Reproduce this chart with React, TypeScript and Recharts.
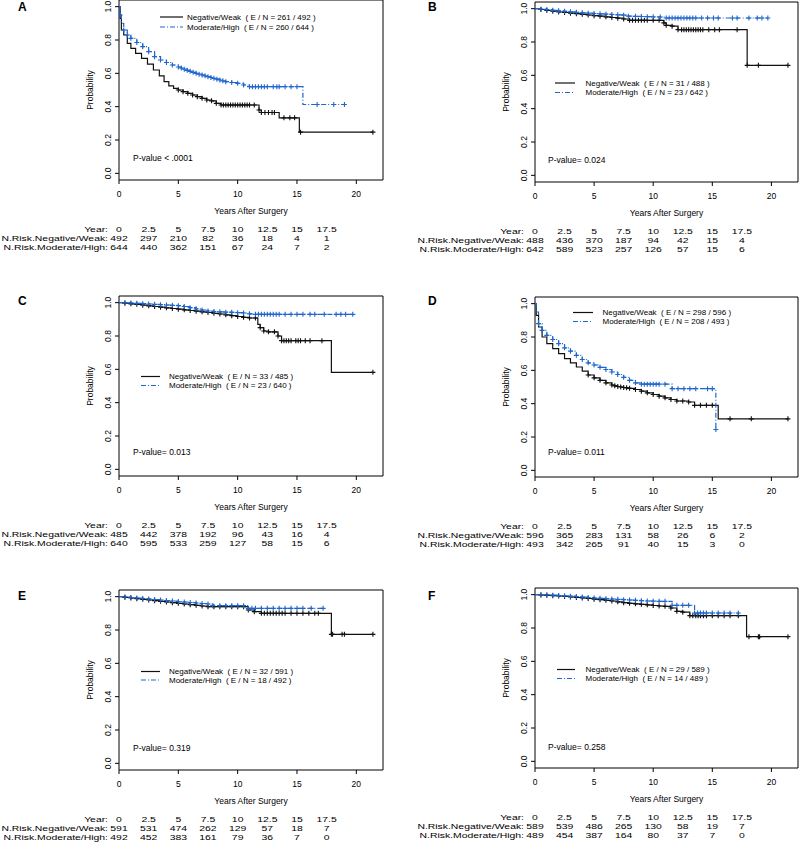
import React from 'react';
import { LineChart, Line, XAxis, YAxis, ReferenceArea } from 'recharts';

// shared axis values
const YEARS = [0, 2.5, 5, 7.5, 10, 12.5, 15, 17.5];
const X_TICKS = [0, 5, 10, 15, 20];
const ALL_X = [0, 2.5, 5, 7.5, 10, 12.5, 15, 17.5, 20];
const Y_TICKS = [0, 0.2, 0.4, 0.6, 0.8, 1.0];
const GROUPS = ['Negative/Weak', 'Moderate/High'];

// curves: [years, survival, censored]
const A_NEG = [[0,1,0],[0.1,0.93,0],[0.2,0.86,0],[0.4,0.83,0],[0.7,0.78,0],[1.0,0.75,0],[1.4,0.72,0],[1.9,0.69,0],[2.4,0.655,0],[2.9,0.62,0],[3.4,0.585,0],[3.8,0.55,0],[4.2,0.525,0],[4.6,0.51,0],[5.0,0.5,1],[5.4,0.49,1],[5.8,0.48,1],[6.2,0.47,1],[6.6,0.46,1],[7.0,0.45,1],[7.4,0.44,1],[7.8,0.435,1],[8.2,0.42,1],[8.6,0.41,1],[8.8,0.41,1],[9.0,0.41,1],[9.2,0.41,1],[9.4,0.41,1],[9.6,0.41,1],[9.8,0.41,1],[10.0,0.41,1],[10.2,0.41,1],[10.4,0.41,1],[10.6,0.41,1],[10.8,0.41,1],[11.0,0.41,1],[11.4,0.41,1],[11.8,0.38,1],[12.0,0.365,1],[12.3,0.365,1],[12.6,0.365,1],[12.9,0.365,1],[13.1,0.365,1],[13.5,0.333,0],[13.9,0.333,1],[14.4,0.333,1],[14.8,0.333,1],[15.2,0.247,0],[15.3,0.247,1],[21.4,0.247,1]];
const A_MOD = [[0,1,0],[0.1,0.95,1],[0.2,0.9,0],[0.4,0.86,1],[0.7,0.83,1],[1.0,0.81,1],[1.5,0.785,1],[2.0,0.76,1],[2.5,0.73,1],[3.0,0.70,1],[3.5,0.68,1],[4.0,0.665,1],[4.5,0.65,1],[5.0,0.638,1],[5.25,0.632,1],[5.5,0.625,1],[5.75,0.618,1],[6.0,0.612,1],[6.25,0.606,1],[6.5,0.60,1],[6.75,0.595,1],[7.0,0.59,1],[7.25,0.585,1],[7.5,0.58,1],[7.75,0.575,1],[8.0,0.57,1],[8.25,0.565,1],[8.5,0.56,1],[8.75,0.555,1],[9.0,0.55,1],[9.5,0.545,1],[10.0,0.54,1],[10.5,0.53,1],[11.0,0.52,1],[11.25,0.52,1],[11.5,0.52,1],[11.75,0.52,1],[12.0,0.52,1],[12.25,0.52,1],[12.5,0.52,1],[13.0,0.52,1],[13.3,0.52,1],[13.5,0.52,1],[14.0,0.52,1],[14.5,0.52,1],[15.0,0.52,1],[15.5,0.413,0],[16.7,0.413,1],[18.1,0.413,1],[19.0,0.413,1]];
const A_RISK_NEG = [492, 297, 210, 82, 36, 18, 4, 1];
const A_RISK_MOD = [644, 440, 362, 151, 67, 24, 7, 2];
const A_EN = ['261 / 492', '260 / 644'];

const B_NEG = [[0,1,0],[0.5,0.995,1],[1,0.99,1],[1.5,0.985,1],[2,0.98,1],[2.5,0.977,1],[3,0.973,1],[3.5,0.97,1],[4,0.966,1],[4.5,0.962,1],[5,0.958,1],[5.5,0.955,1],[6,0.951,1],[6.5,0.947,1],[7,0.943,1],[7.5,0.938,1],[8,0.93,1],[8.25,0.93,1],[8.5,0.93,1],[8.75,0.93,1],[9,0.93,1],[9.25,0.93,1],[9.5,0.93,1],[10,0.93,1],[10.5,0.93,1],[10.9,0.915,1],[11.1,0.9,1],[11.6,0.895,1],[12.1,0.874,1],[12.4,0.874,1],[12.6,0.874,1],[12.8,0.874,1],[13,0.874,1],[13.2,0.874,1],[13.4,0.874,1],[13.6,0.874,1],[13.8,0.874,1],[14.0,0.874,1],[14.2,0.874,1],[14.7,0.874,1],[15.2,0.874,1],[15.6,0.874,1],[17.1,0.874,1],[17.95,0.66,1],[18.9,0.66,1],[21.4,0.66,1]];
const B_MOD = [[0,1,0],[0.5,0.997,1],[1,0.994,1],[1.5,0.99,1],[2,0.987,1],[2.5,0.984,1],[3,0.981,1],[3.5,0.978,1],[4,0.975,1],[4.5,0.973,1],[5,0.971,1],[5.5,0.969,1],[6,0.967,1],[6.5,0.965,1],[7,0.963,1],[7.5,0.961,1],[7.9,0.955,1],[8.5,0.954,1],[9,0.953,1],[9.5,0.952,1],[10,0.951,1],[10.6,0.95,1],[11.1,0.944,1],[11.35,0.944,1],[11.6,0.944,1],[11.85,0.944,1],[12.1,0.944,1],[12.35,0.944,1],[12.6,0.944,1],[12.85,0.944,1],[13.1,0.944,1],[13.35,0.944,1],[13.6,0.944,1],[14.1,0.944,1],[14.6,0.944,1],[15.1,0.944,1],[15.5,0.944,1],[16.7,0.944,1],[17.1,0.944,1],[18.1,0.944,1],[18.8,0.944,1],[19.2,0.944,1],[19.7,0.944,1]];
const B_RISK_NEG = [488, 436, 370, 187, 94, 42, 15, 4];
const B_RISK_MOD = [642, 589, 523, 257, 126, 57, 15, 6];
const B_EN = ['31 / 488', '23 / 642'];

const C_NEG = [[0,1,0],[0.5,0.997,1],[1,0.993,1],[1.5,0.99,1],[2,0.985,1],[2.5,0.981,1],[3,0.977,1],[3.5,0.973,1],[4,0.969,1],[4.5,0.965,1],[5,0.961,1],[5.5,0.957,1],[6,0.953,1],[6.5,0.949,1],[7,0.945,1],[7.5,0.941,1],[8,0.936,1],[8.5,0.932,1],[9,0.927,1],[9.5,0.922,1],[10,0.917,1],[10.5,0.912,1],[11,0.908,1],[11.5,0.908,1],[11.7,0.87,0],[11.9,0.85,1],[12.2,0.83,1],[12.6,0.825,1],[13.1,0.825,1],[13.4,0.8,1],[13.7,0.772,1],[13.9,0.772,1],[14.1,0.772,1],[14.3,0.772,1],[14.5,0.772,1],[14.9,0.772,1],[15.1,0.772,1],[15.3,0.772,1],[15.7,0.772,1],[16.1,0.772,1],[17.1,0.772,1],[17.9,0.582,0],[21.4,0.582,1]];
const C_MOD = [[0,1,0],[0.5,0.999,1],[1,0.998,1],[1.5,0.996,1],[2,0.994,1],[2.5,0.992,1],[3,0.99,1],[3.5,0.988,1],[4,0.986,1],[4.5,0.984,1],[5,0.982,1],[5.5,0.977,1],[6,0.97,1],[6.5,0.963,1],[7,0.956,1],[7.5,0.95,1],[8,0.947,1],[8.5,0.945,1],[9,0.943,1],[9.5,0.942,1],[10,0.94,1],[10.5,0.938,1],[11,0.933,1],[11.5,0.93,1],[11.75,0.93,1],[12,0.93,1],[12.25,0.93,1],[12.5,0.93,1],[12.75,0.93,1],[13,0.93,1],[13.25,0.93,1],[13.5,0.93,1],[14,0.93,1],[14.5,0.93,1],[15,0.93,1],[15.5,0.93,1],[16.1,0.93,1],[16.5,0.93,1],[17.3,0.93,1],[18.3,0.93,1],[18.7,0.93,1],[19.1,0.93,1],[19.7,0.93,1]];
const C_RISK_NEG = [485, 442, 378, 192, 96, 43, 16, 4];
const C_RISK_MOD = [640, 595, 533, 259, 127, 58, 15, 6];
const C_EN = ['33 / 485', '23 / 640'];

const D_NEG = [[0,1,0],[0.1,0.93,0],[0.3,0.86,0],[0.6,0.8,0],[1.0,0.76,0],[1.5,0.73,0],[2.0,0.70,0],[2.5,0.67,0],[3.0,0.645,0],[3.5,0.62,0],[4.0,0.595,0],[4.5,0.572,1],[5.0,0.555,1],[5.5,0.54,1],[6.0,0.525,1],[6.5,0.512,1],[6.75,0.507,1],[7.0,0.503,1],[7.25,0.5,1],[7.5,0.497,1],[7.75,0.495,1],[8.0,0.492,1],[8.5,0.485,1],[9.0,0.475,1],[9.5,0.465,1],[10.0,0.455,1],[10.5,0.445,1],[11.0,0.435,1],[11.5,0.425,1],[12.0,0.416,1],[12.5,0.416,1],[13.0,0.41,1],[13.5,0.39,1],[14.0,0.39,1],[14.5,0.39,1],[15.0,0.39,1],[15.5,0.309,0],[16.5,0.309,1],[18.3,0.309,1],[21.4,0.309,1]];
const D_MOD = [[0,1,0],[0.1,0.95,0],[0.3,0.88,1],[0.6,0.84,1],[1.0,0.81,1],[1.5,0.785,1],[2.0,0.76,1],[2.5,0.735,1],[3.0,0.715,1],[3.5,0.69,1],[4.0,0.665,1],[4.5,0.645,1],[5.0,0.632,1],[5.5,0.618,1],[6.0,0.605,1],[6.5,0.59,1],[7.0,0.575,1],[7.5,0.558,1],[8.0,0.54,1],[8.5,0.525,1],[9.0,0.517,1],[9.25,0.517,1],[9.5,0.517,1],[9.75,0.517,1],[10.0,0.517,1],[10.25,0.517,1],[10.5,0.517,1],[11.0,0.517,1],[11.6,0.49,1],[12.1,0.49,1],[12.6,0.49,1],[13.1,0.49,1],[13.6,0.49,1],[14.6,0.49,1],[15.0,0.49,1],[15.3,0.245,1]];
const D_RISK_NEG = [596, 365, 283, 131, 58, 26, 6, 2];
const D_RISK_MOD = [493, 342, 265, 91, 40, 15, 3, 0];
const D_EN = ['298 / 596', '208 / 493'];

const E_NEG = [[0,1,0],[0.5,0.996,1],[1,0.992,1],[1.5,0.988,1],[2,0.984,1],[2.5,0.98,1],[3,0.976,1],[3.5,0.972,1],[4,0.968,1],[4.5,0.964,1],[5,0.96,1],[5.5,0.956,1],[6,0.952,1],[6.5,0.948,1],[7,0.944,1],[7.5,0.94,1],[8,0.94,1],[8.5,0.94,1],[9,0.94,1],[9.5,0.94,1],[10,0.94,1],[10.5,0.94,1],[10.9,0.92,1],[11.4,0.91,1],[12,0.90,1],[12.25,0.90,1],[12.5,0.90,1],[12.75,0.90,1],[13,0.90,1],[13.25,0.90,1],[13.5,0.90,1],[13.75,0.90,1],[14,0.90,1],[14.5,0.90,1],[15,0.90,1],[15.5,0.90,1],[16,0.90,1],[16.5,0.90,1],[16.8,0.90,1],[17.9,0.774,1],[18,0.774,1],[18.8,0.774,1],[19,0.774,1],[21.4,0.774,1]];
const E_MOD = [[0,1,0],[0.5,0.998,1],[1,0.995,1],[1.5,0.992,1],[2,0.989,1],[2.5,0.986,1],[3,0.983,1],[3.5,0.98,1],[4,0.977,1],[4.5,0.974,1],[5,0.971,1],[5.5,0.968,1],[6,0.965,1],[6.5,0.962,1],[7,0.959,1],[7.5,0.956,1],[7.9,0.946,1],[8.5,0.946,1],[9,0.946,1],[9.5,0.946,1],[10,0.946,1],[10.5,0.946,1],[10.9,0.93,1],[11.2,0.93,1],[11.5,0.93,1],[12,0.93,1],[12.5,0.93,1],[13,0.93,1],[13.5,0.93,1],[14,0.93,1],[14.5,0.93,1],[15,0.93,1],[15.5,0.93,1],[16.2,0.93,1],[17.2,0.93,1]];
const E_RISK_NEG = [591, 531, 474, 262, 129, 57, 18, 7];
const E_RISK_MOD = [492, 452, 383, 161, 79, 36, 7, 0];
const E_EN = ['32 / 591', '18 / 492'];

const F_NEG = [[0,1,0],[0.5,0.998,1],[1,0.996,1],[1.5,0.994,1],[2,0.992,1],[2.5,0.989,1],[3,0.986,1],[3.5,0.983,1],[4,0.98,1],[4.5,0.977,1],[5,0.973,1],[5.5,0.97,1],[6,0.966,1],[6.5,0.962,1],[7,0.957,1],[7.5,0.952,1],[8,0.948,1],[8.5,0.945,1],[9,0.942,1],[9.5,0.939,1],[10,0.935,1],[10.5,0.932,1],[11,0.93,1],[11.5,0.92,1],[12,0.90,1],[12.5,0.895,1],[13.1,0.874,1],[13.35,0.874,1],[13.6,0.874,1],[13.8,0.874,1],[14,0.874,1],[14.25,0.874,1],[14.5,0.874,1],[15,0.874,1],[15.5,0.874,1],[16,0.874,1],[16.5,0.874,1],[17.2,0.874,1],[17.9,0.748,0],[18.1,0.748,1],[18.9,0.748,1],[19.0,0.748,1],[21.4,0.748,1]];
const F_MOD = [[0,1,0],[0.5,0.999,1],[1,0.998,1],[1.5,0.997,1],[2,0.995,1],[2.5,0.993,1],[3,0.991,1],[3.5,0.989,1],[4,0.986,1],[4.5,0.983,1],[5,0.98,1],[5.5,0.978,1],[6,0.976,1],[6.5,0.974,1],[7,0.972,1],[7.5,0.97,1],[8,0.968,1],[8.5,0.966,1],[9,0.964,1],[9.5,0.962,1],[10,0.961,1],[10.5,0.96,1],[11,0.96,1],[11.6,0.936,1],[12,0.936,1],[12.5,0.936,1],[13,0.936,1],[13.5,0.89,1],[13.75,0.89,1],[14,0.89,1],[14.25,0.89,1],[14.5,0.89,1],[15,0.89,1],[15.5,0.89,1],[16,0.89,1],[16.5,0.89,1],[17.2,0.89,1]];
const F_RISK_NEG = [589, 539, 486, 265, 130, 58, 19, 7];
const F_RISK_MOD = [489, 454, 387, 164, 80, 37, 7, 0];
const F_EN = ['29 / 589', '14 / 489'];

const P_VALUES = ['P-value < .0001', 'P-value= 0.024', 'P-value= 0.013', 'P-value= 0.011', 'P-value= 0.319', 'P-value= 0.258'];

const BLACK = '#111';
const BLUE = '#1f66cc';
const FONT = '"Liberation Sans", Arial, Helvetica, sans-serif';
const X_MAX = 22.25;
const BOX_H = 180;
const TOP = 2;
const AX_H = 80;
const RISK_FONT = 8;
const RISK_STRETCH = 1.3;
const RISK_GAP = 9;

// layout of the six panels (page pixels)
const PANELS = [
  { id: 'A', neg: A_NEG, mod: A_MOD, rn: A_RISK_NEG, rm: A_RISK_MOD, en: A_EN, p: P_VALUES[0], left: 0, pl: 119, boxTop: 0, leg: [160, 183, 17, 27, 187], pv: [133, 158] },
  { id: 'B', neg: B_NEG, mod: B_MOD, rn: B_RISK_NEG, rm: B_RISK_MOD, en: B_EN, p: P_VALUES[1], left: 400, pl: 135, boxTop: 2, leg: [555, 575, 83, 92.5, 585.5], pv: [548, 160] },
  { id: 'C', neg: C_NEG, mod: C_MOD, rn: C_RISK_NEG, rm: C_RISK_MOD, en: C_EN, p: P_VALUES[2], left: 0, pl: 119, boxTop: 296, leg: [141, 160, 376.5, 385.5, 169], pv: [133, 452] },
  { id: 'D', neg: D_NEG, mod: D_MOD, rn: D_RISK_NEG, rm: D_RISK_MOD, en: D_EN, p: P_VALUES[3], left: 400, pl: 135, boxTop: 297, leg: [573, 593, 312.5, 321.5, 602.5], pv: [548, 452] },
  { id: 'E', neg: E_NEG, mod: E_MOD, rn: E_RISK_NEG, rm: E_RISK_MOD, en: E_EN, p: P_VALUES[4], left: 0, pl: 119, boxTop: 590, leg: [141, 160, 671.5, 680, 169], pv: [133, 748] },
  { id: 'F', neg: F_NEG, mod: F_MOD, rn: F_RISK_NEG, rm: F_RISK_MOD, en: F_EN, p: P_VALUES[5], left: 400, pl: 135, boxTop: 588, leg: [557, 575, 669.5, 678.5, 585.5], pv: [548, 747] },
];

const toPoints = (arr: number[][]) => arr.map(([t, s, c]) => ({ t, s, c }));

function censorDot(color: string) {
  return (props: any) => {
    const { cx, cy, payload, index } = props;
    if (!payload || !payload.c) return <g key={`n${index}`} />;
    return (
      <path
        key={`c${index}`}
        d={`M${cx - 2.5},${cy}H${cx + 2.5}M${cx},${cy - 2.5}V${cy + 2.5}`}
        stroke={color}
        strokeWidth={1.1}
        fill="none"
      />
    );
  };
}

function YTick(props: any) {
  const { x, y, payload } = props;
  return (
    <text x={x} y={y} transform={`rotate(-90 ${x} ${y})`} textAnchor="middle" fontSize={8.5} fontFamily={FONT} fill="#000">
      {Number(payload.value).toFixed(1)}
    </text>
  );
}

function RiskText({ x, y, anchor, children }: any) {
  return (
    <text
      transform={`translate(${x} ${y}) scale(${RISK_STRETCH} 1)`}
      x={0}
      y={0}
      textAnchor={anchor}
      fontSize={RISK_FONT}
    >
      {children}
    </text>
  );
}

// x tick: axis tick + label at multiples of 5, risk table column at each YEARS entry
function BottomTick(props: any) {
  const { x, y, payload, neg, mod } = props;
  const v = payload.value;
  const i = YEARS.indexOf(v);
  const labels = ['Year:', `N.Risk.${GROUPS[0]}:`, `N.Risk.${GROUPS[1]}:`];
  const base = y + 52.4;
  return (
    <g fontFamily={FONT} fill="#000">
      {X_TICKS.includes(v) && (
        <>
          <line x1={x} x2={x} y1={y} y2={y + 4} stroke="#000" strokeWidth={1} />
          <text x={x} y={y + 17} textAnchor="middle" fontSize={8.5}>{String(v)}</text>
        </>
      )}
      {i >= 0 && [String(v), String(neg[i]), String(mod[i])].map((r, k) => (
        <RiskText key={k} x={x} y={base + k * RISK_GAP} anchor="middle">{r}</RiskText>
      ))}
      {i === 0 && labels.map((l, k) => (
        <RiskText key={`l${k}`} x={x - 11} y={base + k * RISK_GAP} anchor="end">{l}</RiskText>
      ))}
    </g>
  );
}

function Panel({ cfg }: { cfg: any }) {
  const plotW = cfg.left === 0 ? 264 : 263;
  return (
    <div style={{ position: 'absolute', left: cfg.left, top: cfg.boxTop - TOP }}>
      <LineChart
        width={400}
        height={TOP + BOX_H + AX_H}
        margin={{ top: TOP, right: 400 - cfg.pl - plotW, left: 0, bottom: 0 }}
      >
        <XAxis
          dataKey="t"
          type="number"
          domain={[0, X_MAX]}
          ticks={ALL_X}
          interval={0}
          allowDataOverflow
          axisLine={false}
          tickLine={false}
          tickSize={0}
          tickMargin={0}
          height={AX_H}
          tick={<BottomTick neg={cfg.rn} mod={cfg.rm} />}
        />
        <YAxis
          type="number"
          domain={[-0.04, 1.04]}
          ticks={Y_TICKS}
          interval={0}
          allowDataOverflow
          width={cfg.pl}
          axisLine={false}
          tickSize={4}
          tickMargin={4}
          tickLine={{ stroke: '#000' }}
          tick={<YTick />}
        />
        <ReferenceArea x1={0} x2={X_MAX} y1={-0.04} y2={1.04} fill="none" stroke="#000" strokeWidth={1} ifOverflow="visible" />
        <Line
          data={toPoints(cfg.neg)}
          dataKey="s"
          type="stepAfter"
          stroke={BLACK}
          strokeWidth={1.2}
          dot={censorDot(BLACK)}
          activeDot={false}
          isAnimationActive={false}
        />
        <Line
          data={toPoints(cfg.mod)}
          dataKey="s"
          type="stepAfter"
          stroke={BLUE}
          strokeWidth={1.2}
          strokeDasharray="5 2 1 2"
          dot={censorDot(BLUE)}
          activeDot={false}
          isAnimationActive={false}
        />
      </LineChart>
    </div>
  );
}

function Overlay() {
  return (
    <svg width={800} height={842} style={{ position: 'absolute', left: 0, top: 0, pointerEvents: 'none' }} fontFamily={FONT}>
      {PANELS.map((c) => {
        const midY = c.boxTop + BOX_H / 2;
        const plotW = c.left === 0 ? 264 : 263;
        const midX = c.left + c.pl + plotW / 2;
        const [lx1, lx2, ly1, ly2, tx] = c.leg;
        const rowBase = c.boxTop < 100 ? 10.5 : c.boxTop < 400 ? 305 : 600;
        return (
          <g key={c.id}>
            <text x={c.left === 0 ? 18 : 428} y={rowBase} fontSize={12} fontWeight="bold" fill="#000">{c.id}</text>
            <text
              x={c.left + c.pl - 26}
              y={midY}
              transform={`rotate(-90 ${c.left + c.pl - 26} ${midY})`}
              textAnchor="middle"
              fontSize={8.5}
              fill="#000"
            >
              Probability
            </text>
            <text x={midX} y={c.boxTop + BOX_H + 34} textAnchor="middle" fontSize={8.5} fill="#000">Years After Surgery</text>
            <line x1={lx1} x2={lx2} y1={ly1} y2={ly1} stroke={BLACK} strokeWidth={1.2} />
            <line x1={lx1} x2={lx2} y1={ly2} y2={ly2} stroke={BLUE} strokeWidth={1.2} strokeDasharray="5 2 1 2" />
            <text x={tx} y={ly1 + 2.8} fontSize={8} fill="#000" style={{ whiteSpace: 'pre' }}>{`${GROUPS[0]}  ( E / N = ${c.en[0]} )`}</text>
            <text x={tx} y={ly2 + 2.8} fontSize={8} fill="#000" style={{ whiteSpace: 'pre' }}>{`${GROUPS[1]}  ( E / N = ${c.en[1]} )`}</text>
            <text x={c.pv[0]} y={c.pv[1] + 3} fontSize={8.5} fill="#000" style={{ whiteSpace: 'pre' }}>{c.p}</text>
          </g>
        );
      })}
    </svg>
  );
}

export default function App() {
  return (
    <div style={{ position: 'absolute', left: 0, top: 0, width: 800, height: 842, background: '#fff', overflow: 'hidden' }}>
      {PANELS.map((c) => (
        <Panel key={c.id} cfg={c} />
      ))}
      <Overlay />
    </div>
  );
}
